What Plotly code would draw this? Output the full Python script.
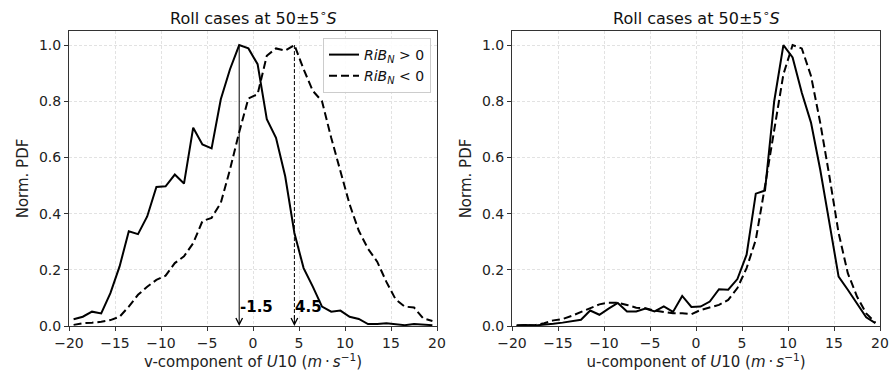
import plotly.graph_objects as go

# Bin centres (m/s)
bins = [-19.5 + i for i in range(40)]

# Left panel: v-component
v_pos = [0.024, 0.033, 0.051, 0.045, 0.117, 0.212, 0.337, 0.327, 0.39, 0.495,
         0.497, 0.539, 0.507, 0.706, 0.646, 0.632, 0.807, 0.914, 1.0, 0.988,
         0.932, 0.736, 0.67, 0.533, 0.331, 0.206, 0.14, 0.069, 0.051, 0.055,
         0.033, 0.025, 0.007, 0.007, 0.01, 0.006, 0.003, 0.007, 0.004, 0.003]
v_neg = [0.004, 0.01, 0.012, 0.015, 0.021, 0.033, 0.069, 0.111, 0.14, 0.164,
         0.179, 0.224, 0.248, 0.295, 0.373, 0.385, 0.438, 0.557, 0.69, 0.81,
         0.825, 0.962, 0.988, 0.98, 1.0, 0.914, 0.837, 0.80, 0.67, 0.552,
         0.433, 0.339, 0.275, 0.229, 0.157, 0.095, 0.069, 0.066, 0.027, 0.018]

# Right panel: u-component
u_pos = [0.003, 0.004, 0.002, 0.004, 0.008, 0.012, 0.017, 0.022, 0.055, 0.04,
         0.062, 0.082, 0.052, 0.052, 0.062, 0.052, 0.07, 0.05, 0.107, 0.068,
         0.069, 0.087, 0.131, 0.129, 0.167, 0.254, 0.471, 0.482, 0.80, 1.0,
         0.956, 0.83, 0.724, 0.557, 0.367, 0.176, 0.129, 0.079, 0.031, 0.01]
u_neg = [0.0, 0.003, 0.003, 0.01, 0.02, 0.025, 0.036, 0.05, 0.063, 0.077,
         0.083, 0.083, 0.075, 0.065, 0.063, 0.055, 0.05, 0.045, 0.045, 0.042,
         0.057, 0.067, 0.075, 0.093, 0.135, 0.206, 0.307, 0.498, 0.70, 0.896,
         1.0, 0.988, 0.89, 0.724, 0.533, 0.331, 0.188, 0.105, 0.045, 0.012]

peak_positions = [-1.5, 4.5]
peak_labels = ["-1.5", "4.5"]

title_text = "Roll cases at 50±5<sup>∘</sup><i>S</i>"
xlabels = ["v-component of <i>U</i>10 (<i>m</i>\u2009·\u2009<i>s</i><sup>−1</sup>)",
           "u-component of <i>U</i>10 (<i>m</i>\u2009·\u2009<i>s</i><sup>−1</sup>)"]
names = ["<i>RiB<sub>N</sub></i> > 0", "<i>RiB<sub>N</sub></i> < 0"]

FONT = "DejaVu Sans"
W, H = 891, 377
L, R, T, B = 69, 880, 31, 326
PW, PH = R - L, B - T
dash = "8px,4px"

fig = go.Figure()
fig.add_trace(go.Scatter(x=bins, y=v_pos, mode="lines", name=names[0],
                         line=dict(color="black", width=2), xaxis="x", yaxis="y"))
fig.add_trace(go.Scatter(x=bins, y=v_neg, mode="lines", name=names[1],
                         line=dict(color="black", width=2, dash=dash), xaxis="x", yaxis="y"))
fig.add_trace(go.Scatter(x=bins, y=u_pos, mode="lines", showlegend=False,
                         line=dict(color="black", width=2), xaxis="x2", yaxis="y2"))
fig.add_trace(go.Scatter(x=bins, y=u_neg, mode="lines", showlegend=False,
                         line=dict(color="black", width=2, dash=dash), xaxis="x2", yaxis="y2"))

ax_common = dict(
    showline=True, mirror=True, linecolor="#333", linewidth=1,
    ticks="outside", ticklen=4, tickcolor="#333", tickwidth=1,
    showgrid=True, gridcolor="#e2e2e2", griddash="3px,2px", gridwidth=0.8,
    zeroline=False, tickfont=dict(family=FONT, size=14, color="#222"),
    automargin=False,
)
xt = dict(font=dict(size=15), standoff=4)
yt = dict(text="Norm. PDF", font=dict(size=15), standoff=6)
fig.update_layout(
    width=W, height=H,
    margin=dict(l=L, r=W - R, t=T, b=H - B, autoexpand=False),
    paper_bgcolor="white", plot_bgcolor="white",
    font=dict(family=FONT, color="#222"),
    xaxis=dict(domain=[0, (437 - L) / PW], range=[-20, 20], dtick=5, anchor="y",
               title=dict(text=xlabels[0], **xt), **ax_common),
    yaxis=dict(domain=[0, 1], range=[0, 1.05], dtick=0.2, tickformat=".1f", anchor="x",
               title=yt, **ax_common),
    xaxis2=dict(domain=[(512 - L) / PW, 1], range=[-20, 20], dtick=5, anchor="y2",
                title=dict(text=xlabels[1], **xt), **ax_common),
    yaxis2=dict(domain=[0, 1], range=[0, 1.05], dtick=0.2, tickformat=".1f", anchor="x2",
                title=yt, **ax_common),
    legend=dict(x=(431 - L) / PW, y=(B - 38) / PH, xanchor="right", yanchor="top",
                bgcolor="rgba(255,255,255,0.9)", bordercolor="#ccc", borderwidth=1,
                font=dict(family=FONT, size=14, color="#111"), tracegroupgap=2),
    showlegend=True,
)

# Titles
for xc in [((69 + 437) / 2 - L) / PW, ((512 + 880) / 2 - L) / PW]:
    fig.add_annotation(text=title_text, x=xc, y=(B - 17) / PH, xref="paper", yref="paper",
                       showarrow=False, font=dict(family=FONT, size=16, color="#111"),
                       xanchor="center", yanchor="middle")

# Peak arrows
for i, (px, lab) in enumerate(zip(peak_positions, peak_labels)):
    if i == 0:
        fig.add_annotation(x=px, y=0, ax=px, ay=1.0, xref="x", yref="y", axref="x", ayref="y",
                           showarrow=True, arrowhead=5, arrowsize=1.3, arrowwidth=1,
                           arrowcolor="black", text="", standoff=0)
    else:
        fig.add_shape(type="line", x0=px, x1=px, y0=1.0, y1=0.01, xref="x", yref="y",
                      line=dict(color="black", width=1, dash="4px,2px"))
        fig.add_annotation(x=px, y=0, ax=0, ay=-12, xref="x", yref="y",
                           showarrow=True, arrowhead=5, arrowsize=1.3, arrowwidth=1,
                           arrowcolor="black", text="", standoff=0)
    fig.add_annotation(x=px, y=0.068, xref="x", yref="y", text="<b>%s</b>" % lab,
                       showarrow=False, xanchor="left", yanchor="middle", xshift=-1,
                       font=dict(family=FONT, size=15, color="black"))

fig.write_html("out.html", config={"displayModeBar": False},
               post_script="document.body.style.margin='0px';")
